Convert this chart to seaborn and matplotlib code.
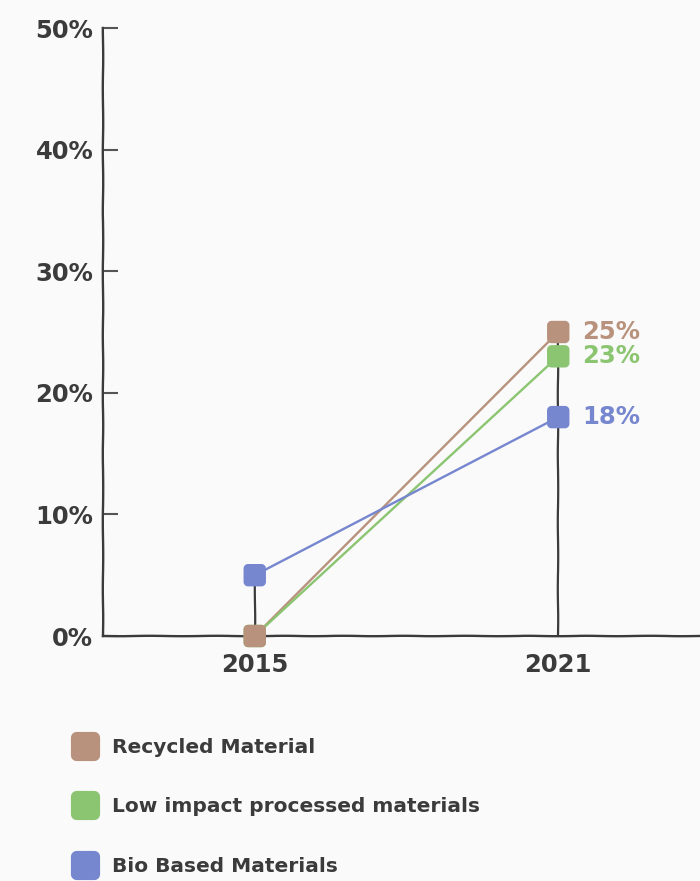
import numpy as np
import pandas as pd
import matplotlib
matplotlib.use("Agg")
import matplotlib.pyplot as plt
from matplotlib.path import Path
from matplotlib.lines import Line2D
import seaborn as sns

# ---- data ----
years = ["2015", "2021"]
series = ["Recycled Material", "Low impact processed materials", "Bio Based Materials"]
recycled = [0, 25]
low_impact = [0, 23]
bio_based = [5, 18]
colors = ["#b8927c", "#8bc571", "#7686cf"]
y_ticks = [0, 10, 20, 30, 40, 50]

df = pd.DataFrame({
    "year": years * len(series),
    "series": np.repeat(series, len(years)),
    "value": recycled + low_impact + bio_based,
})
palette = dict(zip(series, colors))

BG = "#fafafa"
INK = "#3b3b3b"
FONT = "DejaVu Sans"


def rounded_square(r=0.4, n=10):
    """Square marker with rounded corners."""
    pts = []
    corners = [(1 - r, 1 - r, 0), (-1 + r, 1 - r, 90),
               (-1 + r, -1 + r, 180), (1 - r, -1 + r, 270)]
    for cx, cy, a0 in corners:
        t = np.radians(np.linspace(a0, a0 + 90, n))
        pts += list(zip(cx + r * np.cos(t), cy + r * np.sin(t)))
    pts.append(pts[0])
    codes = [Path.MOVETO] + [Path.LINETO] * (len(pts) - 2) + [Path.CLOSEPOLY]
    return Path(pts, codes)


RSQ = rounded_square()

sns.set_theme(style="white")
plt.rcParams["font.family"] = [FONT]
plt.rcParams["font.weight"] = "bold"

W, H = 700, 881
fig = plt.figure(figsize=(W / 100, H / 100), dpi=100, facecolor=BG)
ax = fig.add_axes([103 / W, (H - 636) / H, 607 / W, 608 / H])
ax.set_facecolor(BG)

# vertical stems from the axis to the highest value of each year
for i, yr in enumerate(years):
    top = df.loc[df["year"] == yr, "value"].max()
    stem = ax.vlines(i, 0, top, color=INK, lw=1.6, zorder=1)
    stem.set_sketch_params(0.2, 70, 2)

sns.lineplot(data=df, x="year", y="value", hue="series", palette=palette,
             linewidth=1.7, legend=False, ax=ax, zorder=2)

# markers: draw in reverse so the first series sits on top
sns.scatterplot(data=df.iloc[::-1], x="year", y="value", hue="series",
                palette=palette, marker=RSQ, s=260, linewidth=0,
                legend=False, ax=ax, zorder=4, clip_on=False)

# value labels at the last year
for name, vals in zip(series, [recycled, low_impact, bio_based]):
    ax.annotate(f"{vals[-1]}%", (len(years) - 1, vals[-1]), xytext=(17, 0),
                textcoords="offset points", va="center", ha="left",
                color=palette[name], fontsize=17.5, fontweight="bold")

ax.set_xlim(-0.5, 1.5)
ax.set_ylim(0, 50)
ax.set_yticks(y_ticks)
ax.set_yticklabels([f"{v}%" for v in y_ticks])
ax.set_xlabel("")
ax.set_ylabel("")

for s in ["top", "right"]:
    ax.spines[s].set_visible(False)
for s in ["left", "bottom"]:
    ax.spines[s].set_color(INK)
    ax.spines[s].set_linewidth(1.7)
    ax.spines[s].set_sketch_params(0.2, 70, 2)
ax.spines["left"].set_bounds(0, 50)

ax.tick_params(axis="y", left=True, direction="in", length=11, width=1.5,
               color="#555555", pad=7, labelsize=17.5, labelcolor=INK)
ax.tick_params(axis="x", bottom=False, length=0, pad=12, labelsize=17.5,
               labelcolor=INK)
for lab in ax.get_xticklabels() + ax.get_yticklabels():
    lab.set_fontweight("bold")

# legend below the chart
handles = [Line2D([], [], linestyle="none", marker=RSQ, markersize=21,
                  markerfacecolor=c, markeredgewidth=0) for c in colors]
fig.legend(handles, series, loc="upper left", bbox_to_anchor=(73 / W, 1 - 738 / H),
           frameon=False, borderpad=0, borderaxespad=0, handlelength=1.2,
           handletextpad=0.75, labelspacing=2.0,
           prop={"weight": "bold", "size": 14.5}, labelcolor=INK)

fig.savefig("out.png", dpi=100, facecolor=BG)
